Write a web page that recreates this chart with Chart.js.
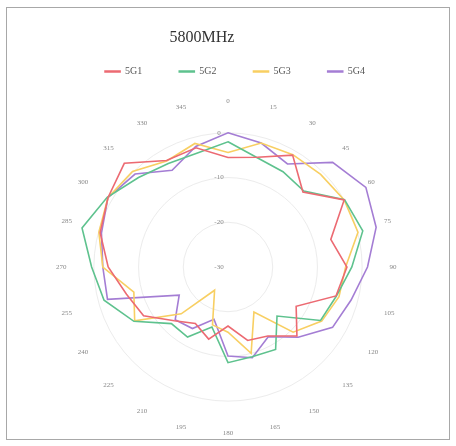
<!DOCTYPE html>
<html>
<head>
<meta charset="utf-8">
<script src="https://cdn.jsdelivr.net/npm/chart.js@4.4.0/dist/chart.umd.min.js"></script>
<style>
  html, body { margin: 0; padding: 0; background: #fff; }
</style>
</head>
<body>
<canvas id="chart" width="456" height="446"></canvas>
<script>
// angle labels, clockwise from top
const angles = ['0', '15', '30', '45', '60', '75', '90', '105', '120', '135', '150', '165',
                '180', '195', '210', '225', '240', '255', '270', '285', '300', '315', '330', '345'];
const tickValues = [-30, -20, -10, 0];

// gain (dB) per angle
const g1 = [-5.5, -4.6, -1.1, -6.3, 0, -6.2, -3.4, -5, -12.4, -8.2, -12.2, -13,
            -16.8, -13.3, -15.4, -13, -8.2, -6.5, -3.2, -0.4, 1, 2.8, -2.5, -2.4];
const g2 = [-2, -4.7, -5.4, -6, 0.1, 1.2, -2.3, -4.9, -6.1, -14.5, -8.7, -9.2,
            -8.6, -16.1, -11.9, -12.1, -5.7, -1.3, 0.5, 3.8, 1.2, -1.7, -3.3, -3.6];
const g3 = [-4.4, -1.3, -1, -0.7, 0, 0.1, -3.7, -4.3, -5.8, -9.4, -18.4, -10,
            -15.4, -16.6, -24, -15.2, -5.9, -8.2, -2, -0.1, 1, 0.2, -2.6, -1.4];
const g4 = [0, -1.3, -3.4, 3.1, 5.6, 4.3, 1.2, -1.5, -3, -7.8, -12, -9,
            -10.1, -17.9, -14.1, -13.3, -17.4, -2.1, -2, -0.7, 1, -0.6, -5, -2.1];

const serif = '"Liberation Serif", "DejaVu Serif", serif';

const frame = {
    id: 'frame',
    beforeDraw(chart) {
        const ctx = chart.ctx;
        ctx.save();
        ctx.fillStyle = '#fff';
        ctx.fillRect(0, 0, chart.width, chart.height);
        ctx.strokeStyle = '#a8a8a8';
        ctx.lineWidth = 1;
        ctx.strokeRect(6.5, 7.5, 443, 432);
        ctx.restore();
    }
};

// title sits left of centre, legend a bit right of it, as in the original
const placeBoxes = {
    id: 'placeBoxes',
    beforeInit(chart) {
        const legend = chart.legend;
        const fit = legend.fit;
        legend.fit = function () { fit.call(this); this.height = 48; };
    },
    afterLayout(chart) {
        const lg = chart.legend;
        lg.left += 8; lg.right += 8;
        lg.top = 29.5; lg.bottom = lg.top + lg.height;
        const t = chart.titleBlock;
        t.left -= 25; t.right -= 25;
    }
};

// radial tick labels sit just left of the vertical axis
const radialTicks = {
    id: 'radialTicks',
    beforeDatasetsDraw(chart) {
        const s = chart.scales.r, ctx = chart.ctx;
        ctx.save();
        ctx.font = '7px ' + serif;
        ctx.fillStyle = '#888';
        ctx.textAlign = 'center';
        ctx.textBaseline = 'middle';
        tickValues.forEach(v => {
            ctx.fillText(String(v), s.xCenter - 9, s.yCenter - s.getDistanceFromCenterForValue(v));
        });
        ctx.restore();
    }
};

const line = (label, data, color) => ({
    label, data,
    borderColor: color, backgroundColor: color,
    borderWidth: 1.6, pointRadius: 0, fill: false, tension: 0
});

new Chart(document.getElementById('chart'), {
    type: 'radar',
    data: {
        labels: angles,
        datasets: [
            line('5G1', g1, '#EC6A72'),
            line('5G2', g2, '#5EC28E'),
            line('5G3', g3, '#F8CF62'),
            line('5G4', g4, '#A47DD4')
        ]
    },
    options: {
        responsive: false,
        animation: false,
        layout: { padding: { top: 10, left: 55, right: 57, bottom: 7 } },
        plugins: {
            title: {
                display: true, text: '5800MHz', color: '#333',
                font: { family: serif, size: 16, weight: 'normal' },
                padding: { top: 18, bottom: 0 }
            },
            legend: {
                position: 'top',
                labels: {
                    boxWidth: 15, boxHeight: 1, padding: 37, color: '#555',
                    font: { family: serif, size: 10 }
                }
            },
            tooltip: { enabled: false }
        },
        scales: {
            r: {
                min: -30, max: 5,
                afterBuildTicks: s => { s.ticks = tickValues.map(v => ({ value: v })); },
                ticks: { display: false },
                grid: { circular: true, color: '#ececec', lineWidth: 1 },
                angleLines: { display: false },
                pointLabels: { color: '#888', padding: 5, font: { family: serif, size: 7 } }
            }
        }
    },
    plugins: [frame, placeBoxes, radialTicks]
});
</script>
</body>
</html>
